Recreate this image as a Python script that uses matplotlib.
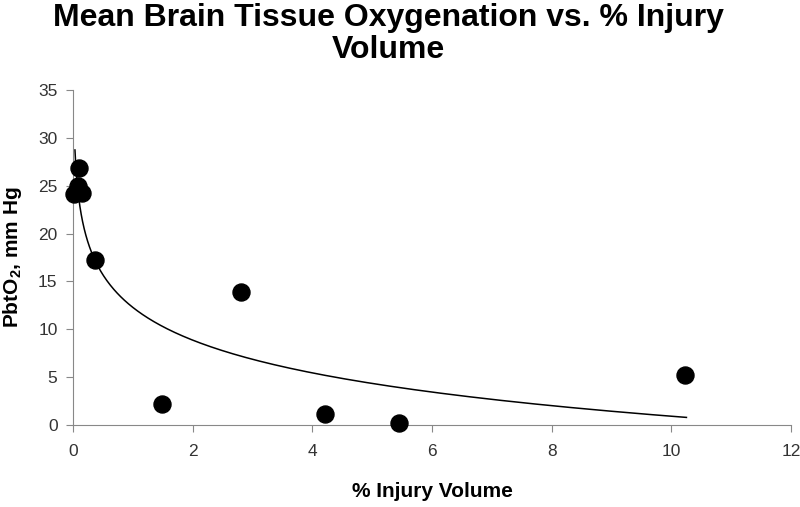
import numpy as np
import matplotlib.pyplot as plt

# % injury volume vs mean PbtO2
injury = [0.02, 0.10, 0.08, 0.15, 0.37, 1.49, 2.81, 4.21, 5.45, 10.23]
pbto2 = [24.1, 26.9, 25.0, 24.3, 17.2, 2.2, 13.9, 1.15, 0.2, 5.2]

# logarithmic trendline y = a - b*ln(x), coefficients
trend_a = 12.3
trend_b = 4.95
trend_range = [0.036, 10.25]

plt.rcParams['font.family'] = ['Liberation Sans', 'DejaVu Sans']

fig = plt.figure(figsize=(8, 5.07), dpi=100)
ax = fig.add_axes([0.091, 0.162, 0.898, 0.66])

xs = np.geomspace(trend_range[0], trend_range[1], 300)
ax.plot(xs, trend_a - trend_b * np.log(xs), color='black', lw=1.1, zorder=2)
ax.scatter(injury, pbto2, s=150, color='black', zorder=3, clip_on=False)

ax.set_xlim(0, 12)
ax.set_ylim(0, 35)
ax.set_xticks(range(0, 13, 2))
ax.set_yticks(range(0, 36, 5))
for s in ['top', 'right']:
    ax.spines[s].set_visible(False)
for s in ['left', 'bottom']:
    ax.spines[s].set_color('#888888')
ax.tick_params(colors='#888888', labelcolor='#333333', labelsize=12.5, length=5, direction='out')
ax.tick_params(axis='x', pad=9)
ax.tick_params(axis='y', pad=6)

ax.set_xlabel('% Injury Volume', fontsize=15, fontweight='bold', labelpad=16)
ax.set_ylabel('PbtO$_\\mathregular{2}$, mm Hg', fontsize=15, fontweight='bold', labelpad=10)
fig.text(0.485, 0.995, 'Mean Brain Tissue Oxygenation vs. % Injury\nVolume',
         ha='center', va='top', fontsize=23, fontweight='bold', linespacing=1.1)

fig.savefig('out.png', dpi=100)
